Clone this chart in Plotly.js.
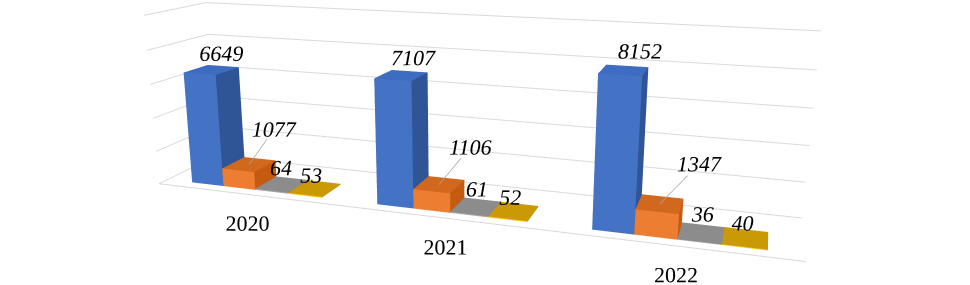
<!DOCTYPE html>
<html>
<head>
<meta charset="utf-8">
<script src="https://cdn.plot.ly/plotly-3.0.1.min.js"></script>
<style>
html,body{margin:0;padding:0;background:#fff;width:970px;height:285px;overflow:hidden;position:relative;}
#chart{position:absolute;}
</style>
</head>
<body>
<div id="chart"></div>
<script>
// ---- data ----
const years = ['2020', '2021', '2022'];
const series1 = [6649, 7107, 8152];
const series2 = [1077, 1106, 1347];
const series3 = [64, 61, 36];
const series4 = [53, 52, 40];
const zTicks = [0, 2000, 4000, 6000, 8000, 10000];

// ---- style / geometry ----
const allSeries = [series1, series2, series3, series4];
const faceColors = [
  {front: '#4472C4', side: '#2F5597', top: '#3E6CC0'},
  {front: '#ED7D31', side: '#C55A11', top: '#D0691E'},
  {front: '#A5A5A5', side: '#7F7F7F', top: '#8C8C8C'},
  {front: '#FFC000', side: '#BF9000', top: '#C99A06'}
];
const nSer = allSeries.length;
const gapW = 1.6;
const period = nSer + gapW;
const xRange = [0, years.length * period];
const yRange = [0, 2.5];
const barY = [0.35, 1.35];
const zRange = [0, 10000];

// enlarged drawing canvas (weak perspective with Plotly's fixed field of view)
const K = 2.6;
const canvasW = Math.round(970 * K), canvasH = Math.round(285 * K);
const centerAt = {x: 463, y: 113};
const chartDiv = document.getElementById('chart');
chartDiv.style.left = (centerAt.x - canvasW / 2) + 'px';
chartDiv.style.top = (centerAt.y - canvasH / 2) + 'px';

function barX0(ci, sIdx) { return ci * period + gapW / 2 + sIdx; }

function boxMesh(series, sIdx) {
  const X = [], Y = [], Z = [], I = [], J = [], K2 = [], FC = [];
  const c = faceColors[sIdx];
  series.forEach((v, ci) => {
    const x0 = barX0(ci, sIdx), x1 = x0 + 1;
    const y0 = barY[0], y1 = barY[1];
    const b = X.length;
    const pts = [[x0,y0,0],[x1,y0,0],[x1,y1,0],[x0,y1,0],[x0,y0,v],[x1,y0,v],[x1,y1,v],[x0,y1,v]];
    pts.forEach(p => { X.push(p[0]); Y.push(p[1]); Z.push(p[2]); });
    const faces = [
      [[0,1,5],[0,5,4], c.front],
      [[3,2,6],[3,6,7], c.side],
      [[0,3,7],[0,7,4], c.side],
      [[1,2,6],[1,6,5], c.side],
      [[4,5,6],[4,6,7], c.top],
      [[0,1,2],[0,2,3], c.side]
    ];
    faces.forEach(f => {
      for (let t = 0; t < 2; t++) {
        I.push(b + f[t][0]); J.push(b + f[t][1]); K2.push(b + f[t][2]); FC.push(f[2]);
      }
    });
  });
  return {
    type: 'mesh3d', x: X, y: Y, z: Z, i: I, j: J, k: K2, facecolor: FC,
    flatshading: true,
    lighting: {ambient: 1, diffuse: 0, specular: 0, roughness: 1, fresnel: 0},
    hoverinfo: 'skip', showscale: false
  };
}

const traces = allSeries.map((s, i) => boxMesh(s, i));

// data labels (+ leader lines for the second series)
const midY = (barY[0] + barY[1]) / 2;
const lblX = [], lblY = [], lblZ = [], lblT = [];
const leadX = [], leadY = [], leadZ = [];
const lblLift = [1000, 2300, 1000, 750];
const lblShift = [0.35, 0.85, 0, -0.1];
allSeries.forEach((s, sIdx) => {
  s.forEach((v, ci) => {
    const cx = barX0(ci, sIdx) + 0.5;
    if (sIdx === 1) {
      leadX.push(cx, cx + 0.6, null); leadY.push(midY, midY, null); leadZ.push(v, v + 1650, null);
    }
    lblX.push(cx + lblShift[sIdx]);
    lblZ.push(v + lblLift[sIdx]);
    lblY.push(midY);
    lblT.push(String(v));
  });
});
traces.push({
  type: 'scatter3d', mode: 'lines', x: leadX, y: leadY, z: leadZ,
  line: {color: '#A6A6A6', width: 1.5}, connectgaps: false, hoverinfo: 'skip', showlegend: false
});
traces.push({
  type: 'scatter3d', mode: 'text', x: lblX, y: lblY, z: lblZ, text: lblT,
  textposition: 'middle center',
  textfont: {family: 'Liberation Serif', size: 22, color: '#000', style: 'italic'},
  hoverinfo: 'skip', showlegend: false
});

// category labels
const catX = years.map((y, ci) => ci * period + gapW / 2 + nSer / 2);
traces.push({
  type: 'scatter3d', mode: 'text', x: catX, y: years.map(() => yRange[0]), z: years.map(() => zRange[0]),
  text: years, textposition: 'bottom center',
  textfont: {family: 'Liberation Serif', size: 22, color: '#000'},
  hoverinfo: 'skip', showlegend: false
});

// front floor edge
traces.push({
  type: 'scatter3d', mode: 'lines',
  x: [xRange[0], xRange[1]], y: [yRange[0], yRange[0]], z: [zRange[0], zRange[0]],
  line: {color: '#D9D9D9', width: 2}, hoverinfo: 'skip', showlegend: false
});

const hidden = {
  showgrid: false, zeroline: false, showline: false, showticklabels: false, ticks: '',
  showbackground: false, showspikes: false, title: {text: ''}
};

const layout = {
  width: canvasW, height: canvasH,
  margin: {l: 0, r: 0, t: 0, b: 0},
  paper_bgcolor: '#fff',
  showlegend: false,
  scene: {
    domain: {x: [0, 1], y: [0, 1]},
    aspectmode: 'manual',
    aspectratio: {x: 3.59, y: 0.6, z: 1},
    camera: {
      eye: {x: 1.5, y: -4.5, z: 1.2},
      center: {x: 0, y: 0, z: 0},
      up: {x: 0, y: 0, z: 1},
      projection: {type: 'perspective'}
    },
    xaxis: Object.assign({}, hidden, {range: xRange}),
    yaxis: Object.assign({}, hidden, {range: yRange}),
    zaxis: Object.assign({}, hidden, {
      range: zRange, tickvals: zTicks, showgrid: true, gridcolor: '#D9D9D9', gridwidth: 2
    })
  }
};

Plotly.newPlot('chart', traces, layout, {displayModeBar: false});
</script>
</body>
</html>
